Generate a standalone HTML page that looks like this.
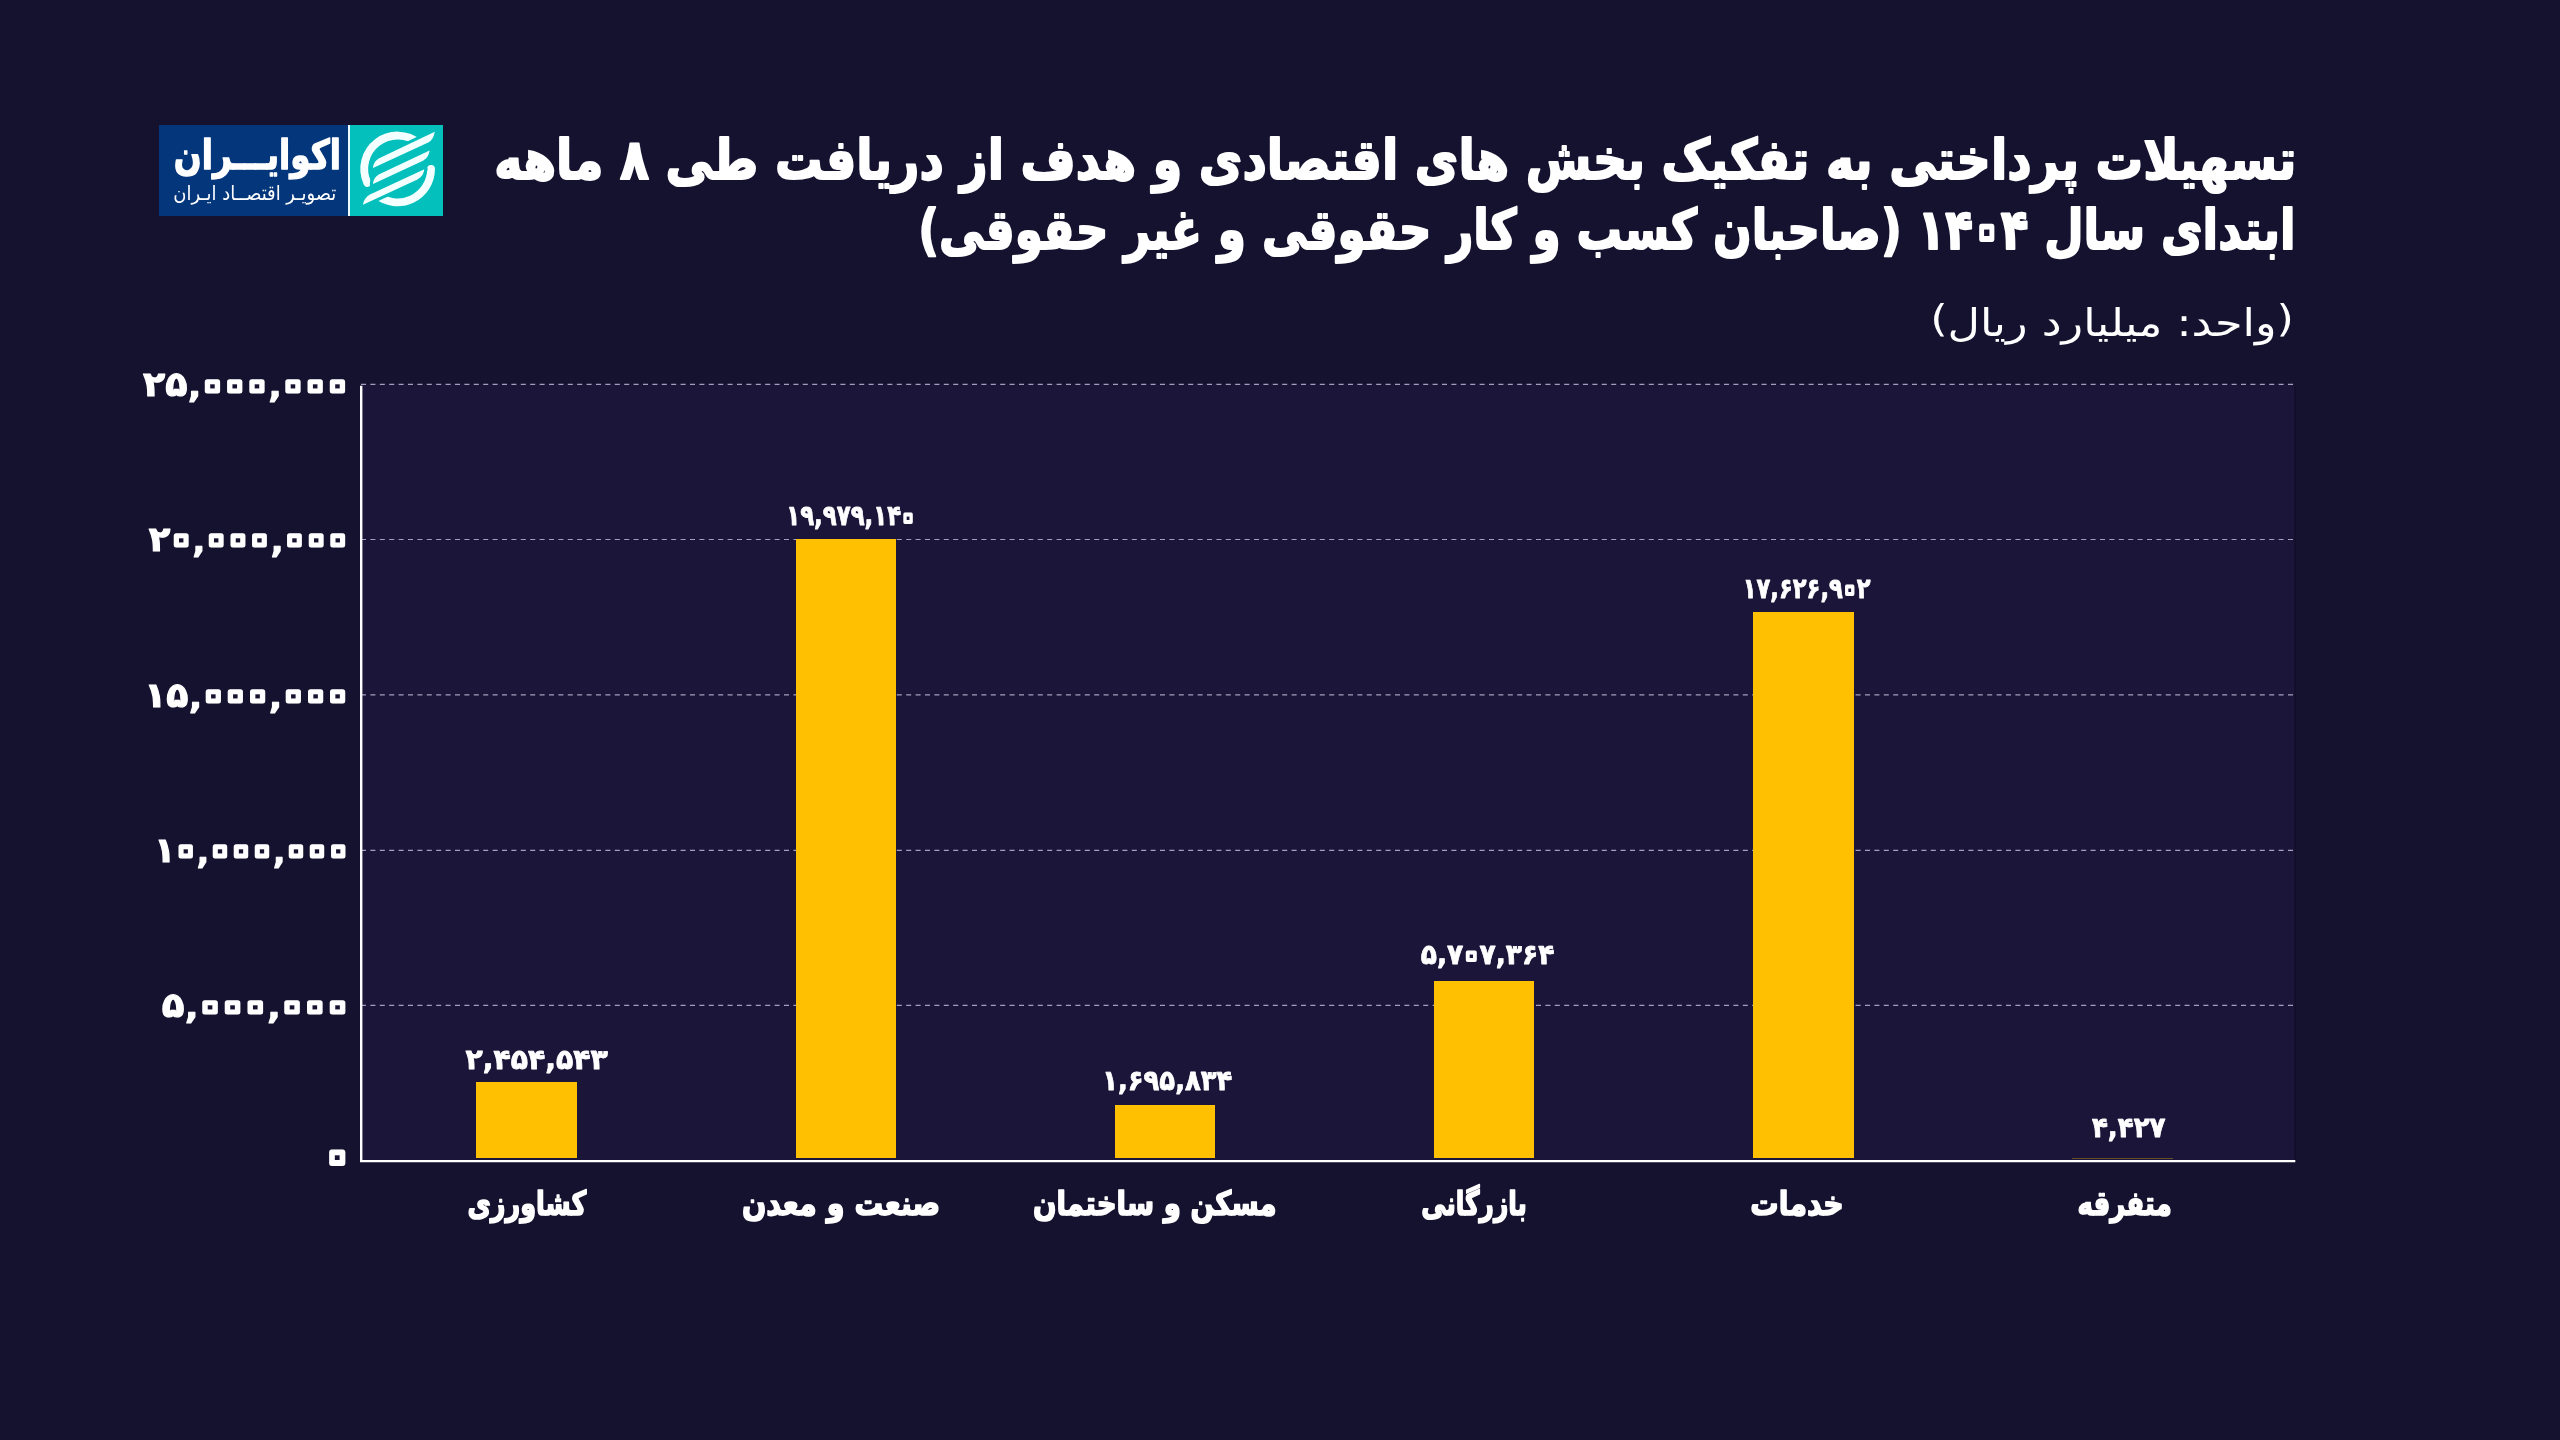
<!DOCTYPE html>
<html lang="fa">
<head>
<meta charset="utf-8">
<title>تسهیلات پرداختی به تفکیک بخش های اقتصادی</title>
<style>
html,body{margin:0;padding:0;}
body{width:2560px;height:1440px;background:#15122f;position:relative;font-family:'DejaVu Sans',sans-serif;}
.abs{position:absolute;}
#plot{left:361px;top:384px;width:1934.2px;height:776px;background:#1b1539;}
.bar{position:absolute;background:#ffc001;width:100.7px;}
svg{position:absolute;left:0;top:0;overflow:visible;}
#txt{will-change:transform}text{fill:#fff;stroke-linejoin:round;stroke-linecap:round;white-space:pre}.z{fill:none;stroke:#fff}
</style>
</head>
<body>
<!-- plot background -->
<div id="plot" class="abs"></div>

<!-- gridlines + axes -->
<svg width="2560" height="1440" viewBox="0 0 2560 1440">
  <g stroke="#e9e6ff" stroke-opacity="0.66" stroke-width="1.15" stroke-dasharray="5 4.4" fill="none">
    <line x1="361" y1="384.3" x2="2295.3" y2="384.3"/>
    <line x1="361" y1="539.5" x2="2295.3" y2="539.5"/>
    <line x1="361" y1="694.8" x2="2295.3" y2="694.8"/>
    <line x1="361" y1="850.4" x2="2295.3" y2="850.4"/>
    <line x1="361" y1="1005.3" x2="2295.3" y2="1005.3"/>
  </g>
  <line x1="2295" y1="385" x2="2295" y2="1160" stroke="#0f0c24" stroke-opacity="0.7" stroke-width="1.2"/>
</svg>

<!-- bars -->
<div class="bar" style="left:476.3px;top:1081.8px;height:76.5px;"></div>
<div class="bar" style="left:795.5px;top:538.9px;height:619.4px;"></div>
<div class="bar" style="left:1114.5px;top:1105.4px;height:52.9px;"></div>
<div class="bar" style="left:1433.8px;top:980.9px;height:177.4px;"></div>
<div class="bar" style="left:1752.9px;top:611.8px;height:546.5px;"></div>
<div class="bar" style="left:2071.9px;top:1157.6px;height:0.9px;opacity:.33;"></div>

<!-- axes -->
<svg width="2560" height="1440" viewBox="0 0 2560 1440">
  <path d="M361.2 385.8 V1161.1 H2295.3" fill="none" stroke="#ffffff" stroke-width="2.4"/>
</svg>

<!-- logo -->
<div class="abs" style="left:158.8px;top:125.2px;width:189.2px;height:90.4px;background:#04367b;"></div>
<div class="abs" style="left:348px;top:125.2px;width:1.8px;height:90.6px;background:#eafcff;"></div>
<div class="abs" style="left:349.7px;top:125.2px;width:93.2px;height:90.6px;background:#04c0bd;"></div>
<svg style="left:340px;top:120px;" width="110" height="100" viewBox="0 0 1584 1440">
  <g fill="none" stroke="#f4ffff" stroke-width="113" stroke-linecap="round">
    <path d="M1139.2 336.5 A481 481 0 0 0 392.3 904.5"/>
    <path d="M1311 705 A481 481 0 0 1 520.8 1073.5"/>
  </g>
  <g fill="#04c0bd" stroke="#04c0bd" stroke-width="92" stroke-linejoin="round">
    <path d="M475 690 C480 620 520 575 580 545 L1365 170 C1350 250 1320 300 1270 325 Z"/>
    <path d="M475 920 C480 850 520 805 580 775 L1290 440 C1275 520 1245 560 1195 585 Z"/>
    <path d="M330 1220 C340 1150 380 1100 440 1070 L1215 710 C1200 790 1165 830 1115 855 Z"/>
  </g>
  <g fill="#f4ffff">
    <path d="M475 690 C480 620 520 575 580 545 L1365 170 C1350 250 1320 300 1270 325 Z"/>
    <path d="M475 920 C480 850 520 805 580 775 L1290 440 C1275 520 1245 560 1195 585 Z"/>
    <path d="M330 1220 C340 1150 380 1100 440 1070 L1215 710 C1200 790 1165 830 1115 855 Z"/>
  </g>
</svg>

<!-- texts -->
<svg id="txt" width="2560" height="1440" viewBox="0 0 2560 1440">
<text transform="translate(2296.39,179.00) scale(0.7923,0.9300)" font-family="'DejaVu Sans',sans-serif" font-weight="700" font-size="60" stroke="#fff" stroke-width="2.2" direction="rtl" text-anchor="start">تسهیلات پرداختی به تفکیک بخش های اقتصادی و هدف از دریافت طی ۸ ماهه</text>
<text transform="translate(2295.53,249.00) scale(0.7566,0.9300)" font-family="'DejaVu Sans',sans-serif" font-weight="700" font-size="60" stroke="#fff" stroke-width="2.2" direction="rtl" text-anchor="start">ابتدای سال <tspan dx="10.98">۱</tspan>۴<tspan class="z" font-size="78.00" stroke-width="6.4" style="baseline-shift:-4.68px" dx="-5.49">۰</tspan><tspan dx="-5.49">۴</tspan><tspan dx="10.98"> </tspan>(صاحبان کسب و کار حقوقی و غیر حقوقی)</text>
<text transform="translate(2293.91,335.50) scale(1.1745,1.0000)" font-family="'DejaVu Sans',sans-serif" font-weight="400" font-size="38" direction="rtl" text-anchor="start"><tspan style="baseline-shift:5px">(</tspan>واحد: میلیارد ریال<tspan style="baseline-shift:5px">)</tspan></text>
<text transform="translate(143.00,396.05) scale(0.9852,0.9350)" font-family="'DejaVu Sans',sans-serif" font-weight="700" font-size="37" stroke="#fff" stroke-width="1.2" direction="ltr" text-anchor="start">۲۵<tspan style="baseline-shift:-21.46px">٬</tspan><tspan class="z" font-size="58.09" stroke-width="5.4" style="baseline-shift:-5.81px" dx="-6.43 -12.86 -12.86">۰۰۰</tspan><tspan style="baseline-shift:-21.46px" dx="-6.43">٬</tspan><tspan class="z" font-size="58.09" stroke-width="5.4" style="baseline-shift:-5.81px" dx="-6.43 -12.86 -12.86">۰۰۰</tspan></text>
<text transform="translate(148.80,551.25) scale(0.9570,0.9350)" font-family="'DejaVu Sans',sans-serif" font-weight="700" font-size="37" stroke="#fff" stroke-width="1.2" direction="ltr" text-anchor="start">۲<tspan class="z" font-size="58.09" stroke-width="5.4" style="baseline-shift:-5.81px" dx="-6.43">۰</tspan><tspan style="baseline-shift:-21.46px" dx="-6.43">٬</tspan><tspan class="z" font-size="58.09" stroke-width="5.4" style="baseline-shift:-5.81px" dx="-6.43 -12.86 -12.86">۰۰۰</tspan><tspan style="baseline-shift:-21.46px" dx="-6.43">٬</tspan><tspan class="z" font-size="58.09" stroke-width="5.4" style="baseline-shift:-5.81px" dx="-6.43 -12.86 -12.86">۰۰۰</tspan></text>
<text transform="translate(144.23,706.55) scale(0.9792,0.9350)" font-family="'DejaVu Sans',sans-serif" font-weight="700" font-size="37" stroke="#fff" stroke-width="1.2" direction="ltr" text-anchor="start">۱۵<tspan style="baseline-shift:-21.46px">٬</tspan><tspan class="z" font-size="58.09" stroke-width="5.4" style="baseline-shift:-5.81px" dx="-6.43 -12.86 -12.86">۰۰۰</tspan><tspan style="baseline-shift:-21.46px" dx="-6.43">٬</tspan><tspan class="z" font-size="58.09" stroke-width="5.4" style="baseline-shift:-5.81px" dx="-6.43 -12.86 -12.86">۰۰۰</tspan></text>
<text transform="translate(154.26,862.05) scale(0.9304,0.9350)" font-family="'DejaVu Sans',sans-serif" font-weight="700" font-size="37" stroke="#fff" stroke-width="1.2" direction="ltr" text-anchor="start">۱<tspan class="z" font-size="58.09" stroke-width="5.4" style="baseline-shift:-5.81px" dx="-6.43">۰</tspan><tspan style="baseline-shift:-21.46px" dx="-6.43">٬</tspan><tspan class="z" font-size="58.09" stroke-width="5.4" style="baseline-shift:-5.81px" dx="-6.43 -12.86 -12.86">۰۰۰</tspan><tspan style="baseline-shift:-21.46px" dx="-6.43">٬</tspan><tspan class="z" font-size="58.09" stroke-width="5.4" style="baseline-shift:-5.81px" dx="-6.43 -12.86 -12.86">۰۰۰</tspan></text>
<text transform="translate(161.83,1016.95) scale(1.0044,0.9350)" font-family="'DejaVu Sans',sans-serif" font-weight="700" font-size="37" stroke="#fff" stroke-width="1.2" direction="ltr" text-anchor="start">۵<tspan style="baseline-shift:-21.46px">٬</tspan><tspan class="z" font-size="58.09" stroke-width="5.4" style="baseline-shift:-5.81px" dx="-6.43 -12.86 -12.86">۰۰۰</tspan><tspan style="baseline-shift:-21.46px" dx="-6.43">٬</tspan><tspan class="z" font-size="58.09" stroke-width="5.4" style="baseline-shift:-5.81px" dx="-6.43 -12.86 -12.86">۰۰۰</tspan></text>
<text transform="translate(325.47,1168.85) scale(1.0435,1.0696)" font-family="'DejaVu Sans',sans-serif" font-weight="700" font-size="37" stroke="#fff" stroke-width="1.2" direction="ltr" text-anchor="start"><tspan class="z" font-size="58.09" stroke-width="5.4" style="baseline-shift:-5.81px" dx="-6.43">۰</tspan></text>
<text transform="translate(465.40,1069.30) scale(1.0113,1.0000)" font-family="'DejaVu Sans',sans-serif" font-weight="700" font-size="28" stroke="#fff" stroke-width="0.8" direction="ltr" text-anchor="start">۲,۴۵۴,۵۴۳</text>
<text transform="translate(786.21,525.40) scale(0.8163,1.0000)" font-family="'DejaVu Sans',sans-serif" font-weight="700" font-size="28" stroke="#fff" stroke-width="0.8" direction="ltr" text-anchor="start">۱۹,۹۷۹,۱۴<tspan class="z" font-size="43.40" stroke-width="4.0" style="baseline-shift:-4.34px" dx="-4.70">۰</tspan></text>
<text transform="translate(1102.21,1089.50) scale(0.9241,1.0000)" font-family="'DejaVu Sans',sans-serif" font-weight="700" font-size="28" stroke="#fff" stroke-width="0.8" direction="ltr" text-anchor="start">۱,۶۹۵,۸۳۴</text>
<text transform="translate(1420.78,964.00) scale(0.9493,1.0000)" font-family="'DejaVu Sans',sans-serif" font-weight="700" font-size="28" stroke="#fff" stroke-width="0.8" direction="ltr" text-anchor="start">۵,۷<tspan class="z" font-size="43.40" stroke-width="4.0" style="baseline-shift:-4.34px" dx="-4.70">۰</tspan><tspan dx="-4.70">۷</tspan>,۳۶۴</text>
<text transform="translate(1742.73,597.80) scale(0.8086,1.0000)" font-family="'DejaVu Sans',sans-serif" font-weight="700" font-size="28" stroke="#fff" stroke-width="0.8" direction="ltr" text-anchor="start">۱۷,۶۲۶,۹<tspan class="z" font-size="43.40" stroke-width="4.0" style="baseline-shift:-4.34px" dx="-4.70">۰</tspan><tspan dx="-4.70">۲</tspan></text>
<text transform="translate(2091.90,1137.00) scale(0.9329,1.0000)" font-family="'DejaVu Sans',sans-serif" font-weight="700" font-size="28" stroke="#fff" stroke-width="0.8" direction="ltr" text-anchor="start">۴,۴۲۷</text>
<text transform="translate(586.35,1214.60) scale(0.6540,0.8600)" font-family="'DejaVu Sans',sans-serif" font-weight="700" font-size="39" stroke="#fff" stroke-width="1.9" direction="rtl" text-anchor="start">کشاورزی</text>
<text transform="translate(940.27,1214.60) scale(0.7343,0.8600)" font-family="'DejaVu Sans',sans-serif" font-weight="700" font-size="39" stroke="#fff" stroke-width="1.9" direction="rtl" text-anchor="start">صنعت و معدن</text>
<text transform="translate(1276.62,1214.60) scale(0.7083,0.8600)" font-family="'DejaVu Sans',sans-serif" font-weight="700" font-size="39" stroke="#fff" stroke-width="1.9" direction="rtl" text-anchor="start">مسکن و ساختمان</text>
<text transform="translate(1526.99,1214.60) scale(0.6390,0.8600)" font-family="'DejaVu Sans',sans-serif" font-weight="700" font-size="39" stroke="#fff" stroke-width="1.9" direction="rtl" text-anchor="start">بازرگانی</text>
<text transform="translate(1843.74,1214.60) scale(0.7271,0.8600)" font-family="'DejaVu Sans',sans-serif" font-weight="700" font-size="39" stroke="#fff" stroke-width="1.9" direction="rtl" text-anchor="start">خدمات</text>
<text transform="translate(2171.73,1214.60) scale(0.6659,0.8600)" font-family="'DejaVu Sans',sans-serif" font-weight="700" font-size="39" stroke="#fff" stroke-width="1.9" direction="rtl" text-anchor="start">متفرقه</text>
<text transform="translate(340.93,168.80) scale(0.7432,0.9300)" font-family="'DejaVu Sans',sans-serif" font-weight="700" font-size="44" stroke="#fff" stroke-width="1.5" direction="rtl" text-anchor="start">اکوایـــران</text>
<text transform="translate(336.30,199.50) scale(0.8967,1.0000)" font-family="'DejaVu Sans',sans-serif" font-weight="400" font-size="20" direction="rtl" text-anchor="start">تصویـر اقتصــاد ایـران</text>
</svg>
</body>
</html>
